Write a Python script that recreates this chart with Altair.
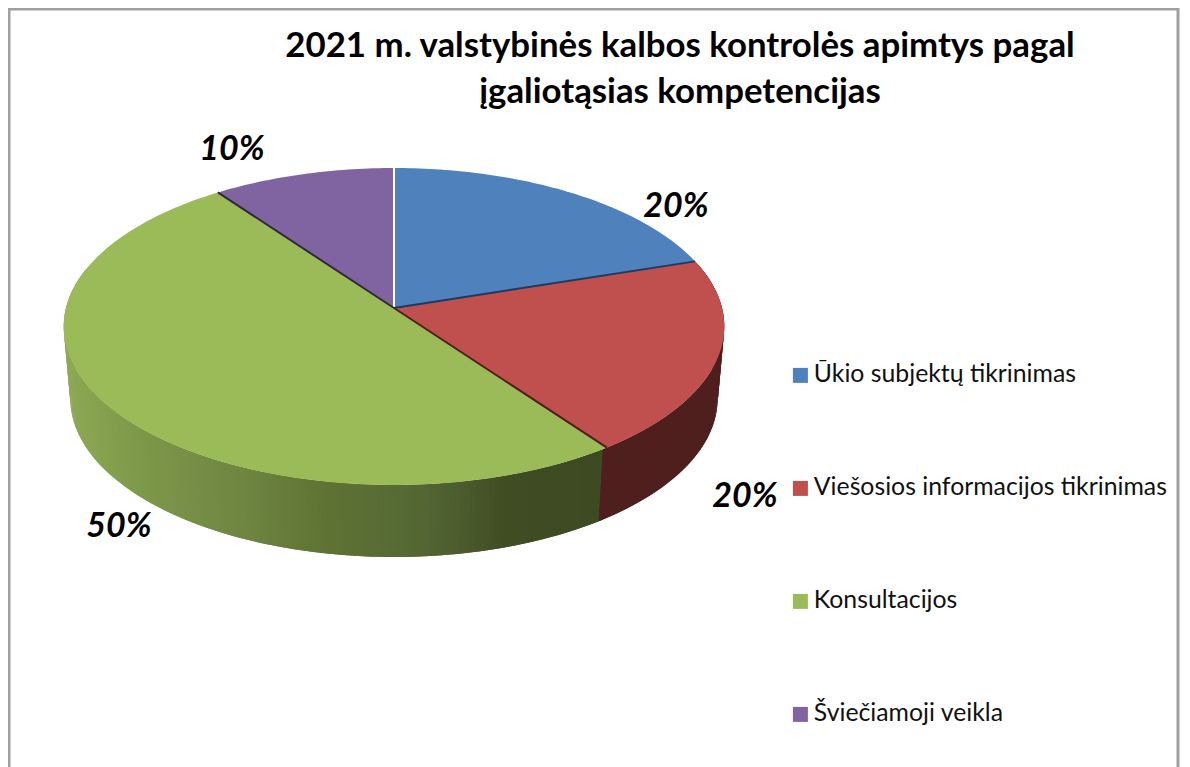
import math
import altair as alt

CATEGORIES = ["Ūkio subjektų tikrinimas", "Viešosios informacijos tikrinimas", "Konsultacijos", "Šviečiamoji veikla"]
SHARES = [20, 20, 50, 10]
COLORS = ["#4f81bd", "#c0504d", "#9bbb59", "#8064a2"]
EDGE_COLORS = ["#ffffff", "#1f3a5f", "#4f1f1c", "#2f2a3a"]
LABEL_POS = [(676, 207), (745, 497), (119, 527), (232, 150)]
TITLE = ["2021 m. valstybinės kalbos kontrolės apimtys pagal", "įgaliotąsias kompetencijas"]
GREEN_SIDE_STOPS = [(64, (142, 169, 85)), (130, (127, 154, 74)), (240, (111, 133, 66)), (330, (94, 114, 51)),
                    (400, (86, 106, 53)), (450, (79, 96, 48)), (505, (64, 77, 35)), (610, (62, 74, 34))]
RED_SIDE = "#4f1f1e"
FONT = "Lato"
CX, CY, A, B, K, DEPTH, SHRINK = 394, 308, 328, 156.3, 0.1167, 72, 0.98
PROJ = dict(type="identity", scale=1, translate=[-8, -8])


def top(t):
    r = math.radians(t)
    d = 1 + K * math.cos(r)
    return CX + A * math.sin(r) / d, CY - B * math.cos(r) / d


def bottom(t):
    x, y = top(t)
    return CX + (x - CX) * SHRINK, y + DEPTH


def arange(a, b, step=1.0):
    n = max(1, int(round((b - a) / step)))
    return [a + (b - a) * i / n for i in range(n + 1)]


def side_color(x):
    s = GREEN_SIDE_STOPS
    if x <= s[0][0]:
        c = s[0][1]
    elif x >= s[-1][0]:
        c = s[-1][1]
    else:
        for (x0, c0), (x1, c1) in zip(s, s[1:]):
            if x0 <= x <= x1:
                f = (x - x0) / (x1 - x0)
                c = tuple(c0[i] + (c1[i] - c0[i]) * f for i in range(3))
                break
    return "#%02x%02x%02x" % tuple(int(round(v)) for v in c)


def poly(points, **props):
    pts = [list(p) for p in points]
    pts.append(pts[0])
    return {"type": "Feature", "properties": props, "geometry": {"type": "Polygon", "coordinates": [pts]}}


starts, acc = [], 0
for s in SHARES:
    starts.append(acc * 3.6)
    acc += s
ends = [st + s * 3.6 for st, s in zip(starts, SHARES)]

side_features = []
ts = arange(starts[2], 285, 0.8)
for a, b, c in zip(ts, ts[1:], ts[2:] + [ts[-1]]):
    # each strip runs under the next one, so no seam shows between them
    side_features.append(poly([top(a), top(c), bottom(c), bottom(a)], fill=side_color(top((a + b) / 2)[0])))
ts = arange(starts[1], ends[1] + 0.8)
for a, b, c in zip(ts, ts[1:], ts[2:] + [ts[-1]]):
    side_features.append(poly([top(a), top(c), bottom(c), bottom(a)], fill=RED_SIDE))

top_features = []
for cat, st, en in zip(CATEGORIES, starts, ends):
    top_features.append(poly([(CX, CY)] + [top(t) for t in arange(st, en)], category=cat))

edge_features = []
for st, col in zip(starts, EDGE_COLORS):
    edge_features.append({"type": "Feature", "properties": {"stroke": col},
                          "geometry": {"type": "LineString", "coordinates": [[CX, CY], list(top(st))]}})

side = alt.Chart(alt.Data(values=side_features)).mark_geoshape(strokeWidth=0).encode(
    fill=alt.Fill("properties.fill:N", scale=None),
).project(**PROJ)

tops = alt.Chart(alt.Data(values=top_features)).mark_geoshape(strokeWidth=0).encode(
    fill=alt.Fill(
        "properties.category:N",
        scale=alt.Scale(domain=CATEGORIES, range=COLORS),
        legend=alt.Legend(
            title=None, orient="none", legendX=780, legendY=355,
            symbolType="square", symbolSize=225, symbolStrokeWidth=0,
            labelFont=FONT, labelFontSize=24.8, labelColor="#111111", labelLimit=400,
            labelOffset=1, rowPadding=87, padding=0, columnPadding=0,
        ),
    )
).project(**PROJ)

edges = alt.Chart(alt.Data(values=edge_features)).mark_geoshape(filled=False, strokeWidth=2).encode(
    stroke=alt.Stroke("properties.stroke:N", scale=None),
).project(**PROJ)

labels = alt.Chart(alt.Data(values=[
    {"label": f"{s}%", "lon": p[0], "lat": p[1]} for s, p in zip(SHARES, LABEL_POS)
])).mark_text(font=FONT, fontSize=34, fontWeight="bold", fontStyle="italic", color="#000000", baseline="middle").encode(
    longitude="lon:Q", latitude="lat:Q", text="label:N"
).project(**PROJ)

frame_color = "#a0a0a0"
frame_left = alt.Chart(alt.Data(values=[{"k": 0}])).mark_rule(color=frame_color, strokeWidth=3).encode(
    x=alt.value(1), y=alt.value(0), y2=alt.value(759))
frame_right = alt.Chart(alt.Data(values=[{"k": 0}])).mark_rule(color=frame_color, strokeWidth=3).encode(
    x=alt.value(1170), y=alt.value(0), y2=alt.value(759))
frame_top = alt.Chart(alt.Data(values=[{"k": 0}])).mark_rule(color=frame_color, strokeWidth=3).encode(
    y=alt.value(1), x=alt.value(0), x2=alt.value(1171))

chart = alt.layer(side, tops, edges, labels, frame_left, frame_right, frame_top).properties(
    width=1174,
    height=759,
    padding=0,
    autosize=alt.AutoSizeParams(type="none"),
    background="#ffffff",
    title=alt.TitleParams(
        text=TITLE, font=FONT, fontSize=34.8, fontWeight="bold", color="#000000",
        anchor="start", frame="group", align="center", baseline="alphabetic",
        dx=672, dy=131, lineHeight=46, offset=0,
    ),
).resolve_scale(fill="independent", stroke="independent").configure_view(stroke=None)

chart.save("out.html", embed_options={"renderer": "svg", "actions": False})
